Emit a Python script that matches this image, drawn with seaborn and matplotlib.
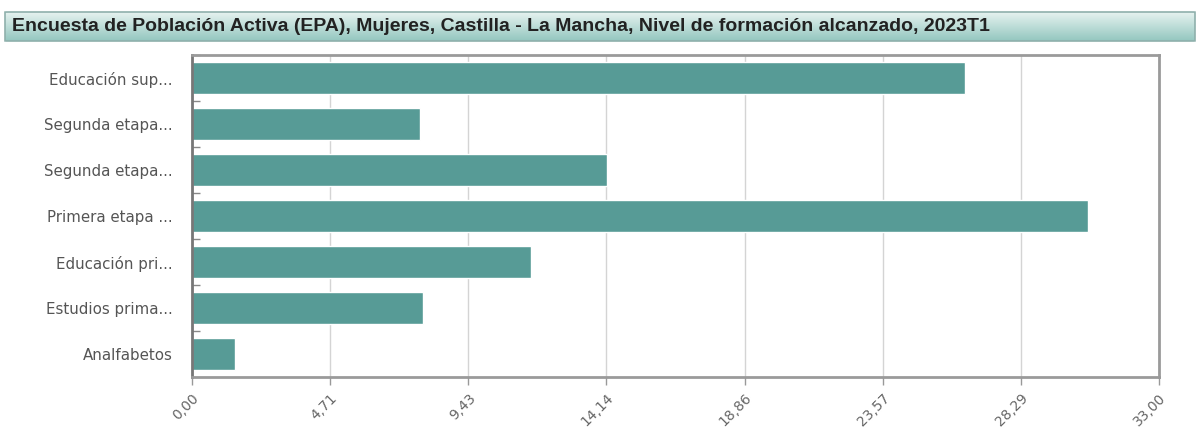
import numpy as np
import pandas as pd
import matplotlib.pyplot as plt
import seaborn as sns
from matplotlib.patches import FancyBboxPatch
from matplotlib.ticker import FixedLocator, FuncFormatter

# Data
categories = ["Educación sup...", "Segunda etapa...", "Segunda etapa...", "Primera etapa ...",
              "Educación pri...", "Estudios prima...", "Analfabetos"]
values = [26.38, 7.78, 14.16, 30.58, 11.57, 7.88, 1.47]
x_max = 33.0
title = "Encuesta de Población Activa (EPA), Mujeres, Castilla - La Mancha, Nivel de formación alcanzado, 2023T1"

df = pd.DataFrame({"pos": [str(i) for i in range(len(categories))], "valor": values})

sns.set_theme(style="white")
plt.rcParams['font.family'] = ['DejaVu Sans']

fig = plt.figure(figsize=(11.98, 4.32), dpi=100)
W, H = 1198, 432

# title bar with a vertical gradient
tb = fig.add_axes([5 / W, 1 - 41 / H, 1190 / W, 29 / H])
grad = np.linspace(0, 1, 50).reshape(-1, 1)
top = np.array([0.90, 0.95, 0.94])
bot = np.array([0.58, 0.78, 0.75])
img = top + (bot - top) * grad[..., None]
tb.imshow(img, aspect="auto", extent=[0, 1, 0, 1], origin="upper")
tb.set_xlim(0, 1)
tb.set_ylim(0, 1)
tb.axis("off")
tb.add_patch(FancyBboxPatch((0, 0), 1, 1, boxstyle="round,pad=0,rounding_size=0.004",
                            fill=False, edgecolor="#8fb0ac", linewidth=1.2,
                            transform=tb.transAxes, clip_on=False))
tb.text(7 / 1190, 0.5, title, ha="left", va="center", fontsize=14, fontweight="bold",
        color="#222222", family=["Liberation Sans", "DejaVu Sans"])

# main chart
ax = fig.add_axes([192 / W, 1 - 377 / H, 967 / W, 322 / H])
sns.barplot(data=df, x="valor", y="pos", color="#579b96", saturation=1, width=0.68, ax=ax)
ax.set_xlim(0, x_max)
ax.set_ylim(len(categories) - 0.5, -0.5)
ticks = [x_max * k / 7 for k in range(8)]
ax.xaxis.set_major_locator(FixedLocator(ticks))
ax.xaxis.set_major_formatter(FuncFormatter(lambda v, p: f"{v:.2f}".replace(".", ",")))
ax.set_yticks(range(len(categories)))
ax.set_yticklabels(categories)
ax.yaxis.set_minor_locator(FixedLocator([i - 0.5 for i in range(len(categories))]))
ax.set_xlabel("")
ax.set_ylabel("")
ax.grid(axis="x", color="#d4d4d4", linewidth=1)
ax.set_axisbelow(True)
for s in ax.spines.values():
    s.set_visible(True)
    s.set_color("#9a9a9a")
    s.set_linewidth(2)
ax.spines["left"].set_color("#777777")
ax.tick_params(axis="y", which="major", length=0, labelsize=10.8, labelcolor="#555555", pad=14)
ax.tick_params(axis="y", which="minor", direction="in", length=6, width=1, color="#888888", left=True)
ax.tick_params(axis="x", which="major", direction="out", length=6, width=1, color="#999999",
               bottom=True, labelsize=10, labelcolor="#666666", labelrotation=45, pad=4)
for lbl in ax.get_xticklabels():
    lbl.set_ha("right")
    lbl.set_rotation_mode("anchor")

fig.savefig("out.png", dpi=100)
